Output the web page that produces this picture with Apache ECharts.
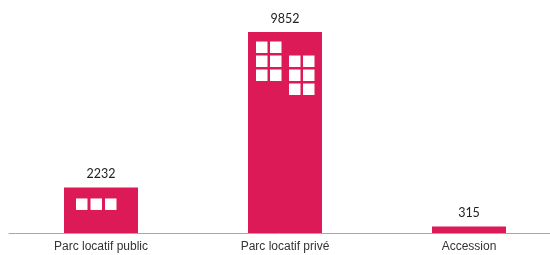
<!DOCTYPE html>
<html>
<head>
<meta charset="utf-8">
<script src="https://cdn.jsdelivr.net/npm/echarts@6/dist/echarts.min.js"></script>
<style>
  html, body { margin: 0; padding: 0; background: #fff; }
  #chart { width: 550px; height: 255px; }
</style>
</head>
<body>
<div id="chart"></div>
<script>
// donnees
const categories = ['Parc locatif public', 'Parc locatif privé', 'Accession'];
const values = [2232, 9852, 315];

// fenetres des immeubles (decor) : [dx, dy] depuis le coin haut-gauche de la barre
const windowSets = [
  [[12, 11], [26.5, 11], [41, 11]],
  [[8, 9.5], [22, 9.5], [8, 23.5], [22, 23.5], [8, 37.5], [22, 37.5],
   [41, 23.5], [55, 23.5], [41, 37.5], [55, 37.5], [41, 51.5], [55, 51.5]],
  []
];

const BAR_W = 74;
const WIN = 11.5;
const RED = '#DC1A57';

const chart = echarts.init(document.getElementById('chart'));

let option = {
  animation: false,
  grid: { left: 9, width: 552, top: 29, bottom: 22, outerBoundsMode: 'none' },
  xAxis: {
    type: 'category',
    data: categories,
    axisLine: { lineStyle: { color: '#a6a6a6', width: 1 } },
    axisTick: { show: false },
    axisLabel: {
      color: '#333',
      fontFamily: 'Liberation Sans',
      fontSize: 12,
      margin: 8
    }
  },
  yAxis: {
    type: 'value',
    min: 0,
    max: 10000,
    show: false
  },
  series: [
    {
      type: 'bar',
      data: values,
      barWidth: BAR_W,
      itemStyle: { color: RED },
      label: {
        show: true,
        position: 'top',
        distance: 7,
        color: '#222',
        fontFamily: 'Lato',
        fontSize: 12.5
      }
    },
    {
      // fenetres blanches posees sur chaque barre
      type: 'custom',
      data: values.map((v, i) => [i, v]),
      z: 3,
      renderItem: function (params, api) {
        const i = api.value(0);
        const top = api.coord([i, api.value(1)]);
        const left = top[0] - BAR_W / 2;
        const children = windowSets[i].map(w => ({
          type: 'rect',
          shape: { x: left + w[0], y: top[1] + w[1], width: WIN, height: WIN },
          style: { fill: '#fff' }
        }));
        return { type: 'group', children: children };
      }
    }
  ]
};

chart.setOption(option);
</script>
</body>
</html>
